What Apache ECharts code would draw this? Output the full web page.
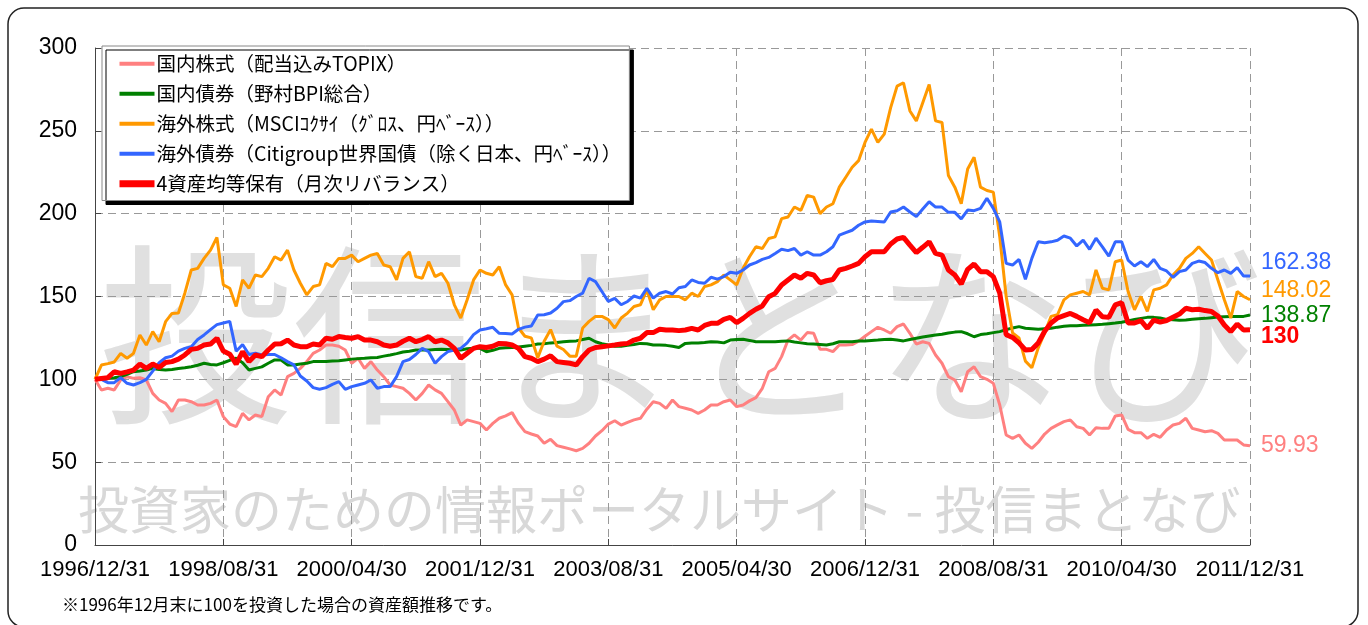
<!DOCTYPE html>
<html>
<head>
<meta charset="utf-8">
<script src="https://cdn.jsdelivr.net/npm/echarts@6/dist/echarts.min.js"></script>
<style>
html, body { margin: 0; padding: 0; background: #fff; }
#main { width: 1368px; height: 625px; }
</style>
</head>
<body>
<div id="main"></div>
<script>
// 月末ごとの目盛ラベル（20ヶ月おき）
var tickLabels = ['1996/12/31', '1998/08/31', '2000/04/30', '2001/12/31', '2003/08/31',
    '2005/04/30', '2006/12/31', '2008/08/31', '2010/04/30', '2011/12/31'];

var seriesNames = [
    '国内株式（配当込みTOPIX）',
    '国内債券（野村BPI総合）',
    '海外株式（MSCIｺｸｻｲ（ｸﾞﾛｽ、円ﾍﾞｰｽ））',
    '海外債券（Citigroup世界国債（除く日本、円ﾍﾞｰｽ））',
    '4資産均等保有（月次リバランス）'
];

// 1996/12 = 100 とした月次推移（1996/12 〜 2011/12）
var domesticStock = [
    100, 93.6, 94.6, 93.6, 99.6, 101.6, 100.6, 101, 99.6, 91.5,
    87.5, 85.5, 80.5, 87.5, 87.5, 86.5, 84.5, 84.5, 85.5, 87.5,
    77.5, 73, 71.4, 79.5, 75.5, 78.5, 77.5, 89.5, 93.6, 90.5,
    101.6, 103.6, 106.6, 110.7, 115.7, 117.7, 120.7, 120.7, 120, 117.7,
    109.7, 112.7, 106.6, 110.7, 105.6, 101.6, 96.6, 95.6, 94.6, 91.5,
    87.5, 91.5, 96.6, 93.6, 91.5, 86.5, 81.5, 72.4, 75.5, 74.5,
    73.4, 69.4, 73.4, 76.5, 78, 79.9, 73.4, 68.4, 67, 65.8,
    61.4, 63.8, 60, 59, 58, 56.9, 58.3, 61.4, 65.8, 69,
    73, 75, 72.4, 74, 75.5, 76.5, 82, 86.5, 85.5, 82.5,
    87.5, 83.5, 82.5, 81.5, 79.5, 81.5, 84.5, 84.5, 86.5, 87.5,
    83.5, 84.5, 87, 89, 94.6, 104.6, 106.6, 113.7, 123.7, 126.8,
    123.7, 128.2, 127.8, 118.1, 118.1, 116.7, 120.7, 120.7, 121, 123,
    126, 128.8, 131.4, 129.8, 127.8, 131.8, 133.4, 127.8, 121.3, 122.7,
    121.7, 114.7, 109.7, 101.6, 99.6, 92.5, 104.6, 107.6, 101.6, 100,
    97.6, 84.5, 66.4, 64.4, 66.4, 61.4, 58.3, 62, 67, 70.4,
    72.5, 74.5, 75.5, 71.4, 70.4, 66.4, 70.8, 70.4, 70.4, 77.9,
    78.5, 69.8, 67.8, 67.8, 64.4, 66.8, 65, 69.4, 72.4, 73.4,
    76.5, 70.4, 69.4, 68.4, 69, 67.4, 63.4, 63.4, 63.4, 60.4,
    59.93
];

var domesticBond = [
    100, 100.5, 100.6, 101, 101.6, 103, 104.6, 105, 105.6, 106.6,
    106, 105.6, 106, 106.6, 107, 107.6, 108.5, 109.7, 109, 108.7,
    110, 111.5, 112.7, 110, 105.6, 106.6, 107.5, 109.7, 111.7, 111.7,
    108.7, 108.7, 109.2, 109.7, 110.7, 110.7, 110.7, 111, 111.2, 111.7,
    112.2, 112.5, 112.7, 113, 113.2, 114, 114.7, 115.5, 116.5, 117,
    117.7, 117.7, 117.7, 118, 118.2, 118, 117.7, 117.7, 118.5, 118.7,
    118.7, 116.7, 117.5, 118.7, 119, 119.2, 119.5, 120, 120.5, 121.3,
    121.5, 122, 122.3, 122.7, 123, 123.2, 124, 124.8, 122.7, 121.5,
    120.7, 120, 120, 120.5, 121, 121.7, 121.5, 120.7, 120.7, 120.5,
    120, 119.2, 121.7, 122, 122, 122.3, 122.7, 122.5, 122, 123.7,
    124, 124.2, 123.5, 122.7, 122.7, 122.7, 122.7, 123, 123.2, 122.5,
    122, 121.5, 121.3, 121, 120.7, 121.5, 122.7, 122.7, 122.7, 123.2,
    123.2, 123.5, 123.7, 124, 124.2, 123.7, 123.2, 124, 124.8, 125.5,
    126.1, 126.7, 127.2, 128, 128.5, 128.8, 127.5, 125.7, 127, 127.5,
    128.2, 128.8, 130, 131, 131.8, 130.8, 130.5, 130.2, 130.5, 130.8,
    131.5, 132, 132.3, 132.4, 132.6, 132.8, 133, 133.2, 133.6, 134,
    134.5, 135.3, 136.2, 136.8, 137.4, 137.4, 137, 136.2, 136, 135.6,
    135.8, 136.2, 136.5, 136.8, 137.2, 137.6, 137.8, 138, 138, 138,
    138.87
];

var foreignStock = [
    100, 108.6, 109.5, 110.5, 115.7, 112.7, 115.7, 126.8, 120.7, 128.8,
    122.7, 134.8, 139.8, 140, 152, 166, 167, 173, 178, 185.7,
    157, 155, 144, 160, 155, 163, 162, 167, 174, 172,
    178, 166, 158, 151, 156, 157, 170, 168, 173, 173,
    175, 171, 173, 175, 176, 169, 168, 160, 173, 177,
    162, 161, 171, 162, 164, 158, 145, 137, 148, 160,
    166, 164, 163, 168, 157, 151, 131, 126, 125, 113,
    123, 130, 120, 118, 114, 114, 131, 135, 138, 138,
    136, 131, 137, 140, 144, 145, 154, 142, 148, 150,
    150, 150, 148, 152, 150, 156, 157, 159, 163, 160,
    157, 167, 174, 180, 179, 185, 186, 197, 198, 204,
    202, 211, 210, 200, 204, 206, 216, 222, 228, 232,
    243, 251, 243, 248, 264, 277, 279, 262, 256, 267,
    278, 256, 255, 223, 216, 206, 227, 234, 216, 214,
    213, 186, 150, 128, 125, 111, 107, 119, 128, 138,
    139, 148, 151, 152, 153, 151, 166, 155, 154, 171,
    172, 153, 142, 150, 141, 154, 155, 157, 163, 167,
    173, 176, 180, 176, 172, 160, 148, 137, 153, 150,
    148.02
];

var foreignBond = [
    100, 100, 98, 98, 101, 97.6, 96.6, 98, 100, 105,
    110, 113, 114, 117, 118.7, 119.7, 124, 126.8, 130, 133,
    134, 135, 117, 121, 115, 115.7, 114.7, 115, 115, 113,
    110.7, 108.7, 102, 99, 95, 94, 95, 97, 98.6, 94,
    95.6, 96.6, 97.6, 99.6, 94.6, 95.6, 95.6, 101.6, 110.7, 112,
    115, 118.7, 116.7, 109.7, 113.7, 116.7, 117.7, 118.7, 122, 127,
    129.8, 130.5, 131.4, 127.8, 127.6, 127.4, 130.2, 131.5, 132.2, 138.8,
    139, 140, 142.9, 146.9, 147.5, 150, 152, 161, 159, 153,
    147, 148.9, 145, 147, 150.3, 149, 155, 149, 152, 153,
    151.5, 155.3, 156, 160, 158.5, 158, 161.6, 160.5, 162, 164.6,
    164, 166, 169, 170.4, 172.4, 173.6, 176, 178.5, 177.7, 179,
    175, 177, 175, 175, 177, 180, 187, 188.5, 190, 193,
    195, 195.6, 195.3, 195, 201, 201.8, 204, 201, 198.2, 202.8,
    207.2, 204, 204, 200.8, 200.8, 196.8, 202.2, 201.8, 203.2, 209.3,
    203.2, 195, 170, 169, 172.4, 160.4, 173, 183, 182.5, 183,
    184, 186.5, 185.2, 180.5, 184, 178.5, 185.2, 180, 174.4, 183,
    183, 172, 168.4, 171, 168, 172.4, 167, 165.4, 161.6, 165,
    166, 170, 171.4, 170.5, 167, 164.4, 166, 164, 167.4, 162.4,
    162.38
];

var balanced = [
    100, 100.5, 101, 104.6, 103.6, 104.5, 105.6, 109.2, 106.6, 109.2,
    107.2, 110.2, 110.7, 112.2, 114.7, 118.1, 118.7, 120.7, 121.3, 124.8,
    117.1, 115.2, 109.2, 116.7, 110.7, 114.7, 113.7, 117.7, 121.3, 121.5,
    123.7, 120.7, 119.7, 119.7, 121.3, 120.7, 124.8, 124.2, 125.8, 125.2,
    124.8, 125.8, 123.7, 123.7, 122.7, 120.7, 120, 120.7, 123, 124.8,
    122.7, 124, 125.8, 122.7, 123.7, 122, 118.7, 112.7, 115.7, 118.7,
    119.7, 119.2, 120, 121.7, 121.5, 120.7, 118.7, 113.7, 112.7, 110.7,
    112.2, 114.2, 110.7, 110.2, 109.7, 108.7, 113.7, 117.7, 119.2, 119.7,
    120.2, 120.7, 121.3, 121.7, 123.7, 124.8, 128.2, 128.2, 130.2, 129.8,
    129.8, 129.4, 129.8, 130.8, 129.8, 132.5, 133.8, 133.8, 136.2, 137.4,
    134.2, 136.8, 139.8, 142.3, 144.3, 149.9, 151.9, 157, 160, 163,
    161, 164, 163, 158.3, 159.5, 160.3, 166, 167, 168.4, 170,
    174, 177, 177, 177, 181.7, 184.7, 185.7, 181, 176.5, 179.7,
    183, 176, 175, 166, 163, 157.5, 166.4, 169.6, 165, 165,
    162, 152, 127, 125.3, 122, 117.7, 118, 122, 129, 134,
    137, 138.5, 139.8, 138, 136, 134.2, 141.8, 137.8, 137.4, 144.9,
    146.3, 134, 134, 135.4, 130.8, 135.8, 134.5, 135.5, 137.5, 139.4,
    142.9, 142, 142.3, 141.5, 141, 138.2, 132.8, 128.8, 133.4, 129.8,
    130
];

var colors = ['#ff8080', '#008000', '#ff9900', '#3366ff', '#ff0000'];

// [月インデックス, 値] の組にする
function toPairs(arr) {
    return arr.map(function (v, i) { return [i, v]; });
}

function makeSeries(idx, data, width, labelDy, bold) {
    return {
        name: seriesNames[idx],
        type: 'line',
        symbol: 'none',
        data: toPairs(data),
        lineStyle: { width: width, color: colors[idx] },
        itemStyle: { color: colors[idx] },
        endLabel: {
            show: true,
            formatter: function (p) { return p.value[1]; },
            color: colors[idx],
            fontSize: 23,
            fontWeight: bold ? 'bold' : 'normal',
            fontFamily: 'Liberation Sans',
            distance: 11,
            offset: [0, labelDy]
        }
    };
}

// 凡例の線の太さ（4資産均等だけ太い）
var legendData = seriesNames.map(function (name, i) {
    return { name: name, lineStyle: { width: i === 4 ? 7 : 4 } };
});

var chart = echarts.init(document.getElementById('main'));
var option = {
    animation: false,
    backgroundColor: '#fff',
    color: colors,
    grid: { left: 95, right: 118, top: 48, bottom: 80 },
    legend: {
        orient: 'vertical',
        left: 102,
        top: 46,
        padding: [8, 8, 7, 14],
        itemWidth: 35,
        itemHeight: 14,
        itemGap: 10.5,
        backgroundColor: '#fff',
        borderColor: '#888',
        borderWidth: 1,
        shadowColor: '#000',
        shadowBlur: 0,
        shadowOffsetX: 4,
        shadowOffsetY: 4,
        itemStyle: { opacity: 0 },
        data: legendData,
        textStyle: { fontFamily: 'Noto Sans CJK JP', fontSize: 19.5, color: '#000', padding: [0, 0, 0, -3] }
    },
    xAxis: {
        type: 'value',
        min: 0,
        max: 180,
        interval: 20,
        axisLine: { lineStyle: { color: '#444', width: 1 } },
        axisTick: { inside: true, length: 6, lineStyle: { color: '#444' } },
        axisLabel: {
            formatter: function (v) { return tickLabels[v / 20]; },
            fontFamily: 'Liberation Sans',
            fontSize: 22,
            color: '#000',
            margin: 14
        },
        splitLine: { show: true, lineStyle: { color: '#999', type: [8, 5] } }
    },
    yAxis: {
        type: 'value',
        min: 0,
        max: 300,
        interval: 50,
        axisLine: { show: true, lineStyle: { color: '#444', width: 1 } },
        axisTick: { show: true, inside: true, length: 6, lineStyle: { color: '#444' } },
        axisLabel: { fontFamily: 'Liberation Sans', fontSize: 23, color: '#000', margin: 18 },
        splitLine: { show: true, lineStyle: { color: '#999', type: [8, 5] } }
    },
    graphic: {
        elements: [
            {
                type: 'text', left: 98, top: 238, z: -10, silent: true,
                style: { text: '投信まとなび', fill: '#e0e0e0', font: '194px "Noto Sans CJK JP"' }
            },
            {
                type: 'text', left: 78, top: 484, z: -10, silent: true,
                style: { text: '投資家のための情報ポータルサイト - 投信まとなび', fill: '#d8d8d8', font: '51px "Noto Sans CJK JP"' }
            },
            {
                type: 'text', left: 62, top: 596, silent: true,
                style: { text: '※1996年12月末に100を投資した場合の資産額推移です。', fill: '#000', font: '17px "Noto Sans CJK JP"' }
            },
            {
                type: 'rect', silent: true,
                shape: { x: 8, y: 8, width: 1350, height: 619, r: 16 },
                style: { fill: 'none', stroke: '#222', lineWidth: 1.5 }
            }
        ]
    },
    series: [
        makeSeries(0, domesticStock, 3, 0, false),
        makeSeries(1, domesticBond, 3, 1, false),
        makeSeries(2, foreignStock, 3, -9, false),
        makeSeries(3, foreignBond, 3, -13, false),
        makeSeries(4, balanced, 5, 7, true)
    ]
};
chart.setOption(option);
window.addEventListener('resize', function () {
    chart.resize();
});
</script>
</body>
</html>
